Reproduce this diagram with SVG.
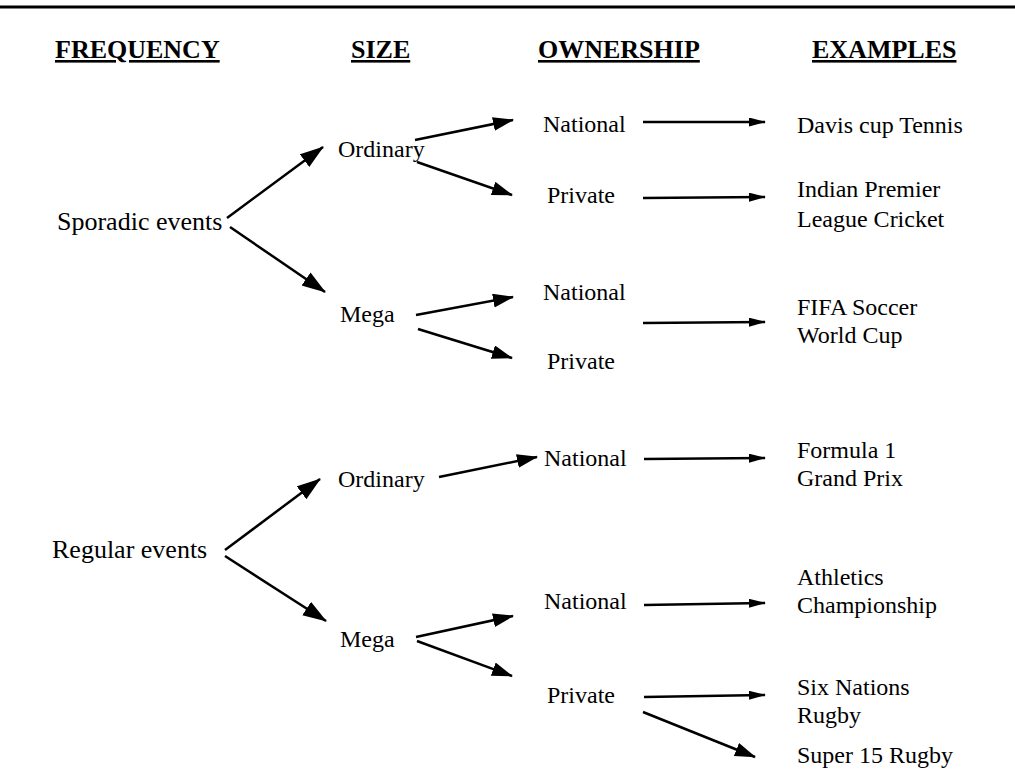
<svg xmlns="http://www.w3.org/2000/svg" width="1015" height="775" viewBox="0 0 1015 775">
<style>
text{font-family:"Liberation Serif","Times New Roman",serif;fill:#000;font-size:24px}
.hd{font-weight:bold;font-size:26px;text-decoration:underline}
.fq{font-size:26px}
.c line{stroke:#000;stroke-width:2.5}
.big{marker-end:url(#ab)}
.xl{marker-end:url(#ax)}
.sm{marker-end:url(#as)}
</style>
<defs>
<marker id="ax" markerUnits="userSpaceOnUse" markerWidth="26" markerHeight="18" refX="23" refY="8" orient="auto"><path d="M0,0 L24,8 L0,16 z" fill="#000"/></marker>
<marker id="ab" markerUnits="userSpaceOnUse" markerWidth="22" markerHeight="16" refX="20" refY="7" orient="auto"><path d="M0,0 L21,7 L0,14 z" fill="#000"/></marker>
<marker id="as" markerUnits="userSpaceOnUse" markerWidth="18" markerHeight="10" refX="16" refY="4.5" orient="auto"><path d="M0,0 L17,4.5 L0,9 z" fill="#000"/></marker>
</defs>
<rect width="1015" height="775" fill="#fff"/>
<line x1="0" y1="7" x2="1015" y2="7" stroke="#000" stroke-width="3"/>
<g id="headers">
<text class="hd" x="55" y="58">FREQUENCY</text>
<text class="hd" x="351" y="58">SIZE</text>
<text class="hd" x="538" y="58">OWNERSHIP</text>
<text class="hd" x="812" y="58">EXAMPLES</text>
</g>
<g id="sporadic"><text class="fq" x="57" y="230">Sporadic events</text></g>
<g id="regular"><text class="fq" x="52" y="558">Regular events</text></g>
<g id="s-ordinary"><text x="338" y="157">Ordinary</text></g>
<g id="s-mega"><text x="340" y="322">Mega</text></g>
<g id="r-ordinary"><text x="338" y="487">Ordinary</text></g>
<g id="r-mega"><text x="340" y="647">Mega</text></g>
<g id="so-national"><text x="543" y="132">National</text></g>
<g id="so-private"><text x="547" y="203">Private</text></g>
<g id="sm-national"><text x="543" y="300">National</text></g>
<g id="sm-private"><text x="547" y="369">Private</text></g>
<g id="ro-national"><text x="544" y="466">National</text></g>
<g id="rm-national"><text x="544" y="609">National</text></g>
<g id="rm-private"><text x="547" y="703">Private</text></g>
<g id="ex-davis"><text x="797" y="133">Davis cup Tennis</text></g>
<g id="ex-ipl"><text x="797" y="197">Indian Premier</text><text x="797" y="227">League Cricket</text></g>
<g id="ex-fifa"><text x="797" y="315">FIFA Soccer</text><text x="797" y="343">World Cup</text></g>
<g id="ex-f1"><text x="797" y="458">Formula 1</text><text x="797" y="486">Grand Prix</text></g>
<g id="ex-athletics"><text x="797" y="585">Athletics</text><text x="797" y="613">Championship</text></g>
<g id="ex-sixnations"><text x="797" y="695">Six Nations</text><text x="797" y="723">Rugby</text></g>
<g id="ex-super15"><text x="797" y="763">Super 15 Rugby</text></g>
<g id="connectors" class="c">
<line class="xl" x1="227" y1="218" x2="323" y2="147"/>
<line class="xl" x1="230" y1="227" x2="325" y2="292"/>
<line class="big" x1="415" y1="140" x2="513" y2="120"/>
<line class="big" x1="417" y1="162" x2="512" y2="195"/>
<line class="big" x1="416" y1="315" x2="513" y2="297"/>
<line class="big" x1="418" y1="329" x2="512" y2="358"/>
<line class="xl" x1="225" y1="550" x2="320" y2="479"/>
<line class="xl" x1="225" y1="556" x2="326" y2="621"/>
<line class="big" x1="439" y1="477" x2="537" y2="457"/>
<line class="big" x1="416" y1="637" x2="513" y2="616"/>
<line class="big" x1="417" y1="641" x2="512" y2="676"/>
<line class="sm" x1="643" y1="122" x2="765" y2="122"/>
<line class="sm" x1="643" y1="198" x2="765" y2="197"/>
<line class="sm" x1="643" y1="323" x2="765" y2="322"/>
<line class="sm" x1="644" y1="459" x2="765" y2="458"/>
<line class="sm" x1="644" y1="605" x2="765" y2="603"/>
<line class="sm" x1="644" y1="697" x2="765" y2="695"/>
<line class="big" x1="643" y1="712" x2="755" y2="757"/>
</g>
</svg>
